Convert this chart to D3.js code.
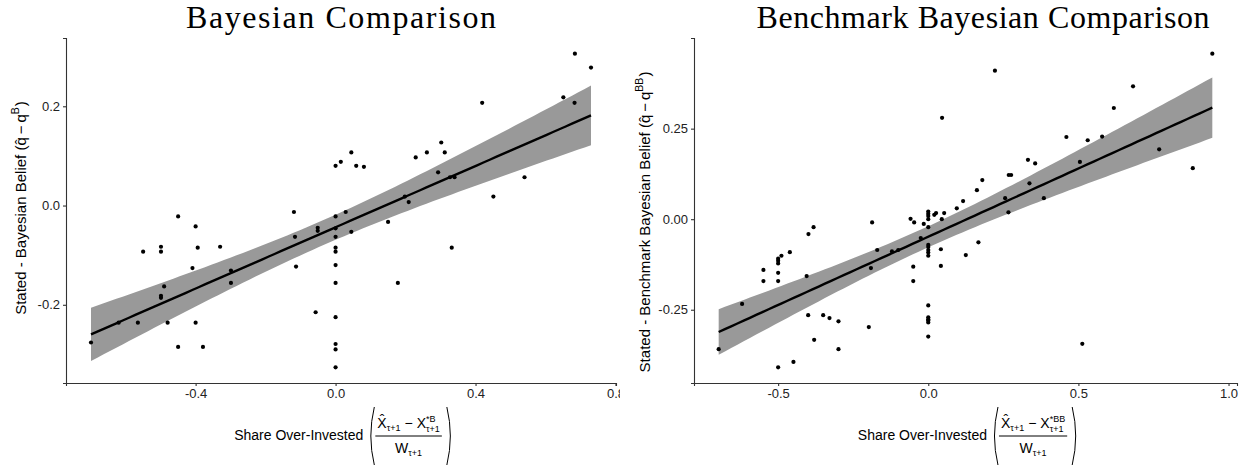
<!DOCTYPE html>
<html>
<head>
<meta charset="utf-8">
<script src="https://cdn.jsdelivr.net/npm/d3@7"></script>
<style>
  body { margin: 0; background: white; }
  text { font-family: "Liberation Sans", Arial, sans-serif; }
  .title { font-family: "Palatino Linotype", "Book Antiqua", Palatino, "Liberation Serif", serif; }
</style>
</head>
<body>
<div id="canvas"></div>
<script>
// DATA
const bayesX = [-0.699, -0.620, -0.565, -0.550, -0.499, -0.499, -0.499, -0.499, -0.490, -0.480,
  -0.450, -0.450, -0.409, -0.400, -0.394, -0.400, -0.379, -0.330, -0.299, -0.299,
  -0.119, -0.116, -0.113, -0.057, -0.051, -0.051, 0, 0, 0, 0,
  0, 0, 0, 0, 0, 0, 0, 0, 0.015, 0.029,
  0.045, 0.045, 0.059, 0.081, 0.150, 0.178, 0.198, 0.209, 0.229, 0.261,
  0.293, 0.302, 0.312, 0.327, 0.332, 0.340, 0.419, 0.451, 0.540, 0.651,
  0.683, 0.684, 0.730];
const bayesY = [-0.276, -0.236, -0.236, -0.093, -0.083, -0.093, -0.182, -0.186, -0.163, -0.236,
  -0.022, -0.285, -0.126, -0.042, -0.085, -0.236, -0.285, -0.083, -0.131, -0.156,
  -0.013, -0.063, -0.123, -0.215, -0.045, -0.051, 0.080, -0.022, -0.046, -0.063,
  -0.085, -0.093, -0.120, -0.156, -0.225, -0.279, -0.290, -0.326, 0.088, -0.013,
  0.107, -0.053, 0.080, 0.078, -0.033, -0.156, 0.018, 0.007, 0.097, 0.107,
  0.067, 0.127, 0.107, 0.057, -0.085, 0.057, 0.207, 0.018, 0.057, 0.218,
  0.207, 0.306, 0.278];

const benchX = [-0.698, -0.620, -0.549, -0.549, -0.489, -0.500, -0.500, -0.500, -0.500, -0.500,
  -0.500, -0.461, -0.449, -0.405, -0.400, -0.399, -0.382, -0.380, -0.350, -0.329,
  -0.299, -0.299, -0.198, -0.191, -0.187, -0.170, -0.121, -0.100, -0.059, -0.050,
  -0.050, -0.047, -0.025, -0.015, 0, 0, 0, 0, 0, 0,
  0, 0, 0, 0, 0, 0, 0, 0, 0, 0,
  0.020, 0.026, 0.042, 0.042, 0.045, 0.046, 0.053, 0.095, 0.116, 0.125,
  0.162, 0.167, 0.180, 0.222, 0.256, 0.267, 0.268, 0.276, 0.332, 0.337,
  0.356, 0.385, 0.460, 0.505, 0.513, 0.531, 0.579, 0.618, 0.682, 0.769,
  0.881, 0.946];
const benchY = [-0.359, -0.234, -0.140, -0.171, -0.101, -0.109, -0.115, -0.122, -0.148, -0.171,
  -0.409, -0.091, -0.394, -0.157, -0.265, -0.041, -0.022, -0.333, -0.265, -0.273,
  -0.282, -0.359, -0.298, -0.135, -0.009, -0.085, -0.089, -0.085, 0.001, -0.131,
  -0.171, -0.009, -0.052, -0.013, 0.021, 0.015, 0.009, 0.000, -0.022, -0.071,
  -0.077, -0.085, -0.092, -0.101, -0.238, -0.271, -0.276, -0.280, -0.285, -0.324,
  0.012, 0.017, -0.083, -0.129, 0.000, 0.280, 0.017, 0.030, 0.050, -0.099,
  0.080, -0.064, 0.108, 0.410, 0.058, 0.019, 0.122, 0.122, 0.164, 0.099,
  0.154, 0.058, 0.227, 0.158, -0.344, 0.218, 0.228, 0.307, 0.367, 0.193,
  0.141, 0.457];

const bayesXTicks = [-0.4, 0.0, 0.4, 0.8];
const bayesYTicks = [-0.2, 0.0, 0.2];
const benchXTicks = [-0.5, 0.0, 0.5, 1.0];
const benchYTicks = [-0.25, 0.0, 0.25];

// DIMENSIONS
const width = 1252;
const height = 470;

var canvas = d3.select("#canvas")
    .append("svg")
    .attr("width", width)
    .attr("height", height)
    .style("background", "white");

// linear fit with 95% band, the way geom_smooth(method = "lm") does it
function fitLine(xs, ys) {
    const n = xs.length;
    const mx = d3.mean(xs), my = d3.mean(ys);
    let sxx = 0, sxy = 0;
    xs.forEach((x, i) => { sxx += (x - mx) ** 2; sxy += (x - mx) * (ys[i] - my); });
    const b = sxy / sxx, a = my - b * mx;
    let sse = 0;
    xs.forEach((x, i) => { sse += (ys[i] - a - b * x) ** 2; });
    const s = Math.sqrt(sse / (n - 2));
    const df = n - 2, z = 1.959964;
    const t = z + (z ** 3 + z) / (4 * df) + (5 * z ** 5 + 16 * z ** 3 + 3 * z) / (96 * df * df);
    const [x0, x1] = d3.extent(xs);
    return d3.range(80).map(i => {
        const x = x0 + (x1 - x0) * i / 79;
        const se = s * Math.sqrt(1 / n + (x - mx) ** 2 / sxx);
        const y = a + b * x;
        return { x: x, y: y, lo: y - t * se, hi: y + t * se };
    });
}

// pieces of text laid side by side, returns the right edge
function piece(g, x, dy, size, txt) {
    const t = g.append("text")
        .attr("x", x)
        .attr("y", dy)
        .attr("font-size", size)
        .attr("fill", "black")
        .text(txt);
    return x + t.node().getComputedTextLength();
}

function paren(g, x, y0, y1, dir) {
    const mid = (y0 + y1) / 2;
    g.append("path")
        .attr("d", `M${x},${y0} Q${x - 7 * dir},${mid} ${x},${y1}`)
        .attr("fill", "none")
        .attr("stroke", "black")
        .attr("stroke-width", 1);
}

function xLabel(g, cx, sup) {
    const lab = g.append("g");
    let x = piece(lab, 0, 440, 14, "Share Over-Invested") + 6;
    const p0 = x;
    x += 6;
    // numerator
    const num = lab.append("g");
    let nx = piece(num, 0, 0, 14, "X\u0302");
    nx = piece(num, nx, 3, 9, "\u03c4+1") + 4;
    nx = piece(num, nx, 0, 14, "\u2212") + 4;
    nx = piece(num, nx, 0, 14, "X");
    nx = Math.max(piece(num, nx, -6, 9, sup), piece(num, nx, 4, 9, "\u03c4+1"));
    // denominator
    const den = lab.append("g");
    let dx = piece(den, 0, 0, 14, "W");
    dx = piece(den, dx, 3, 9, "\u03c4+1");
    const fw = Math.max(nx, dx) + 4;
    num.attr("transform", `translate(${x + (fw - nx) / 2}, 427.5)`);
    den.attr("transform", `translate(${x + (fw - dx) / 2}, 453)`);
    lab.append("line")
        .attr("x1", x).attr("x2", x + fw)
        .attr("y1", 436).attr("y2", 436)
        .attr("stroke", "black").attr("stroke-width", 1);
    x += fw + 6;
    paren(lab, p0 + 5, 407, 465, 1);
    paren(lab, x - 1, 407, 465, -1);
    lab.attr("transform", `translate(${cx - x / 2}, 0)`);
}

function yLabel(g, bx, cy, text, sup) {
    const lab = g.append("g");
    let x = piece(lab, 0, 0, 15, text + " (");
    x = piece(lab, x, 0, 15, "q\u0302") + 3;
    x = piece(lab, x, 0, 15, "\u2212") + 3;
    x = piece(lab, x, 0, 15, "q");
    x = piece(lab, x, -7, 10.5, sup) + 1;
    x = piece(lab, x, 0, 15, ")");
    lab.attr("transform", `translate(${bx}, ${cy}) rotate(-90) translate(${-x / 2}, 0)`);
}

function drawPanel(opts) {
    const panel = canvas.append("g");
    if (opts.clip) {
        canvas.append("clipPath").attr("id", opts.clip)
            .append("rect").attr("x", 0).attr("y", 0).attr("width", opts.clipW).attr("height", height);
        panel.attr("clip-path", `url(#${opts.clip})`);
    }

    const xPad = (d3.max(opts.xs) - d3.min(opts.xs)) * 0.05;
    const yPad = (d3.max(opts.ys) - d3.min(opts.ys)) * 0.05;

    // SCALES
    let xScale = d3.scaleLinear()
        .domain([d3.min(opts.xs) - xPad, d3.max(opts.xs) + xPad])
        .range([opts.left, opts.right]);
    let yScale = d3.scaleLinear()
        .domain([d3.min(opts.ys) - yPad, d3.max(opts.ys) + yPad])
        .range([opts.bottom, opts.top]);

    const fit = fitLine(opts.xs, opts.ys);

    // BAND
    panel.append("path")
        .attr("d", d3.area().x(d => xScale(d.x)).y0(d => yScale(d.lo)).y1(d => yScale(d.hi))(fit))
        .attr("fill", "#999999");

    // POINTS
    panel.selectAll("circle.pt")
        .data(opts.xs.map((x, i) => [x, opts.ys[i]]))
        .enter()
        .append("circle")
        .attr("class", "pt")
        .attr("cx", d => xScale(d[0]))
        .attr("cy", d => yScale(d[1]))
        .attr("r", 2.1)
        .attr("fill", "black");

    // THE LINE
    panel.append("path")
        .attr("d", d3.line().x(d => xScale(d.x)).y(d => yScale(d.y))(fit))
        .attr("fill", "none")
        .attr("stroke", "black")
        .attr("stroke-width", 2.4);

    // AXES
    let xaxis = panel.append("g")
        .attr("transform", `translate(0, ${opts.bottom})`)
        .call(d3.axisBottom(xScale).tickValues(opts.xTicks).tickSize(3).tickPadding(3)
            .tickFormat(d => d.toFixed(1)));
    let yaxis = panel.append("g")
        .attr("transform", `translate(${opts.left}, 0)`)
        .call(d3.axisLeft(yScale).tickValues(opts.yTicks).tickSize(3).tickPadding(3)
            .tickFormat(d => d.toFixed(opts.yDigits)));
    [xaxis, yaxis].forEach(ax => {
        ax.select(".domain").attr("stroke", "#333").attr("stroke-width", 1.1);
        ax.selectAll(".tick line").attr("stroke", "#333").attr("stroke-width", 1.1);
        ax.selectAll(".tick text").attr("font-size", 13).attr("fill", "#222")
            .attr("font-family", "Liberation Sans, Arial, sans-serif");
    });

    // TITLE
    panel.append("text")
        .attr("class", "title")
        .attr("x", opts.titleX)
        .attr("y", 28)
        .attr("text-anchor", "middle")
        .attr("font-size", 32)
        .attr("textLength", opts.titleW)
        .attr("lengthAdjust", "spacing")
        .attr("fill", "black")
        .text(opts.title);

    // LABELS
    xLabel(panel, (opts.left + opts.right) / 2, "*" + opts.sup);
    yLabel(panel, opts.yLabX, opts.yLabY, opts.yText, opts.sup);
}

drawPanel({
    xs: bayesX, ys: bayesY, xTicks: bayesXTicks, yTicks: bayesYTicks, yDigits: 1,
    left: 66, right: 616, top: 38, bottom: 383,
    title: "Bayesian Comparison", titleX: 341, titleW: 310,
    sup: "B", yText: "Stated - Bayesian Belief", yLabX: 26, yLabY: 208,
    clip: "clipLeft", clipW: 620
});

drawPanel({
    xs: benchX, ys: benchY, xTicks: benchXTicks, yTicks: benchYTicks, yDigits: 2,
    left: 694, right: 1237, top: 38, bottom: 383,
    title: "Benchmark Bayesian Comparison", titleX: 983, titleW: 453,
    sup: "BB", yText: "Stated - Benchmark Bayesian Belief", yLabX: 650, yLabY: 222
});
</script>
</body>
</html>
